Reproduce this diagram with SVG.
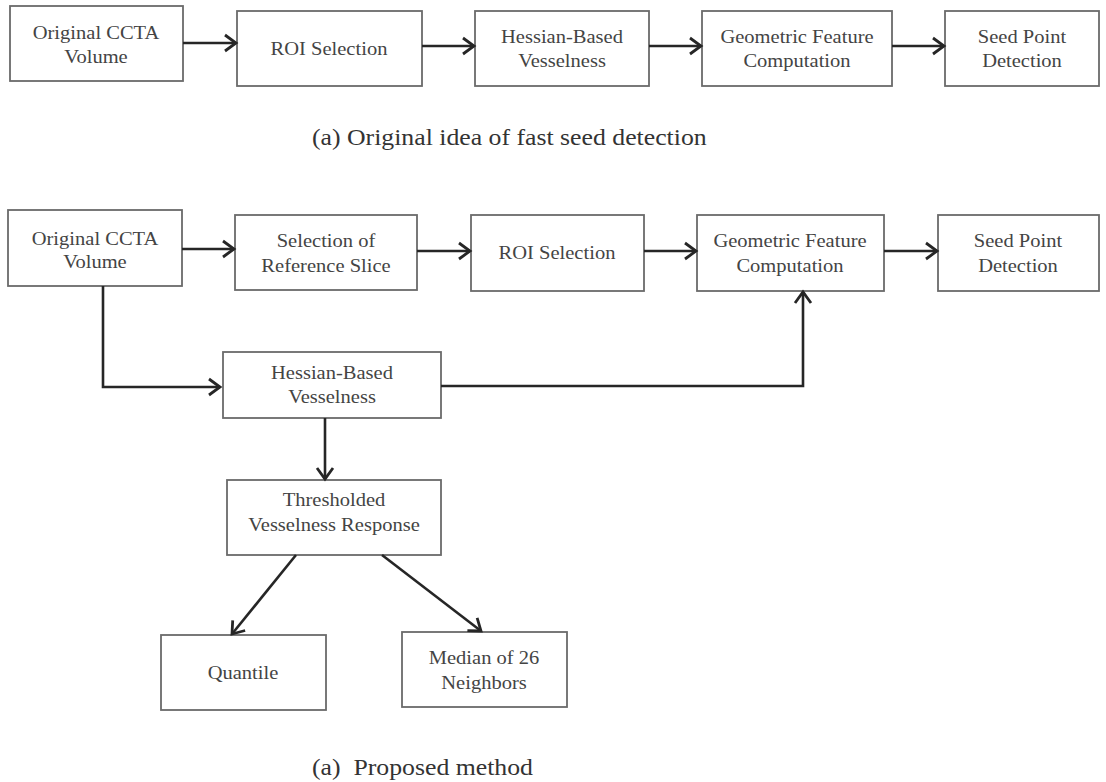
<svg xmlns="http://www.w3.org/2000/svg" width="1106" height="782" viewBox="0 0 1106 782">
<style>
.box{fill:#fff;stroke:#6a6a6a;stroke-width:1.8}
.t{font-family:"Liberation Serif","Times New Roman",serif;font-size:18px;fill:#444;text-anchor:middle}
.cap{font-family:"Liberation Serif","Times New Roman",serif;font-size:22.6px;fill:#333;text-anchor:start}
.c{fill:none;stroke:#262626;stroke-width:2.6}
</style>
<defs>
<marker id="ah" markerUnits="userSpaceOnUse" markerWidth="20" markerHeight="20" viewBox="-14 -10 16 20" refX="0" refY="0" orient="auto">
<path d="M-11,-8 L0,0 L-11,8" fill="none" stroke="#262626" stroke-width="2.8" stroke-linejoin="miter"/>
</marker>
</defs>
<rect width="1106" height="782" fill="#fff"/>

<g id="top-original"><rect class="box" x="10" y="6" width="173" height="75"/><text class="t" transform="translate(96 0) scale(1.14 1)"><tspan x="0" y="39">Original CCTA</tspan><tspan x="0" y="63">Volume</tspan></text></g>
<g id="top-roi"><rect class="box" x="237" y="11" width="185" height="75"/><text class="t" transform="translate(329 0) scale(1.14 1)"><tspan x="0" y="55">ROI Selection</tspan></text></g>
<g id="top-hessian"><rect class="box" x="475" y="11" width="174" height="75"/><text class="t" transform="translate(562 0) scale(1.14 1)"><tspan x="0" y="43">Hessian-Based</tspan><tspan x="0" y="67">Vesselness</tspan></text></g>
<g id="top-geometric"><rect class="box" x="702" y="11" width="190" height="75"/><text class="t" transform="translate(797 0) scale(1.14 1)"><tspan x="0" y="43">Geometric Feature</tspan><tspan x="0" y="67">Computation</tspan></text></g>
<g id="top-seed"><rect class="box" x="945" y="11" width="154" height="75"/><text class="t" transform="translate(1022 0) scale(1.14 1)"><tspan x="0" y="43">Seed Point</tspan><tspan x="0" y="67">Detection</tspan></text></g>

<text class="cap" transform="translate(312 0) scale(1.14 1)" x="0" y="145" xml:space="preserve">(a) Original idea of fast seed detection</text>

<g id="original"><rect class="box" x="8" y="210" width="174" height="76"/><text class="t" transform="translate(95 0) scale(1.14 1)"><tspan x="0" y="245">Original CCTA</tspan><tspan x="0" y="268">Volume</tspan></text></g>
<g id="refslice"><rect class="box" x="235" y="215" width="182" height="75"/><text class="t" transform="translate(326 0) scale(1.14 1)"><tspan x="0" y="247">Selection of</tspan><tspan x="0" y="272">Reference Slice</tspan></text></g>
<g id="roi"><rect class="box" x="471" y="215" width="173" height="76"/><text class="t" transform="translate(557 0) scale(1.14 1)"><tspan x="0" y="259">ROI Selection</tspan></text></g>
<g id="geometric"><rect class="box" x="697" y="215" width="187" height="76"/><text class="t" transform="translate(790 0) scale(1.14 1)"><tspan x="0" y="247">Geometric Feature</tspan><tspan x="0" y="272">Computation</tspan></text></g>
<g id="seed"><rect class="box" x="938" y="215" width="161" height="76"/><text class="t" transform="translate(1018 0) scale(1.14 1)"><tspan x="0" y="247">Seed Point</tspan><tspan x="0" y="272">Detection</tspan></text></g>
<g id="hessian"><rect class="box" x="223" y="352" width="218" height="66"/><text class="t" transform="translate(332 0) scale(1.14 1)"><tspan x="0" y="379">Hessian-Based</tspan><tspan x="0" y="403">Vesselness</tspan></text></g>
<g id="threshold"><rect class="box" x="227" y="480" width="214" height="75"/><text class="t" transform="translate(334 0) scale(1.14 1)"><tspan x="0" y="506">Thresholded</tspan><tspan x="0" y="531">Vesselness Response</tspan></text></g>
<g id="quantile"><rect class="box" x="161" y="635" width="165" height="75"/><text class="t" transform="translate(243 0) scale(1.14 1)"><tspan x="0" y="679">Quantile</tspan></text></g>
<g id="median"><rect class="box" x="402" y="632" width="165" height="75"/><text class="t" transform="translate(484 0) scale(1.14 1)"><tspan x="0" y="664">Median of 26</tspan><tspan x="0" y="689">Neighbors</tspan></text></g>

<text class="cap" transform="translate(312 0) scale(1.14 1)" x="0" y="775" xml:space="preserve">(a)  Proposed method</text>

<g id="connectors">
<line class="c" x1="183" y1="43" x2="236" y2="43" marker-end="url(#ah)"/>
<line class="c" x1="422" y1="46" x2="474" y2="46" marker-end="url(#ah)"/>
<line class="c" x1="649" y1="46" x2="701" y2="46" marker-end="url(#ah)"/>
<line class="c" x1="892" y1="46" x2="944" y2="46" marker-end="url(#ah)"/>
<line class="c" x1="182" y1="249" x2="234" y2="249" marker-end="url(#ah)"/>
<line class="c" x1="417" y1="251" x2="470" y2="251" marker-end="url(#ah)"/>
<line class="c" x1="644" y1="251" x2="696" y2="251" marker-end="url(#ah)"/>
<line class="c" x1="884" y1="251" x2="937" y2="251" marker-end="url(#ah)"/>
<polyline class="c" points="103,286 103,387 220,387" marker-end="url(#ah)"/>
<polyline class="c" points="441,386 803,386 803,292" marker-end="url(#ah)"/>
<line class="c" x1="325" y1="418" x2="325" y2="479" marker-end="url(#ah)"/>
<line class="c" x1="296" y1="555" x2="232" y2="634" marker-end="url(#ah)"/>
<line class="c" x1="382" y1="555" x2="481" y2="631" marker-end="url(#ah)"/>
</g>
</svg>
